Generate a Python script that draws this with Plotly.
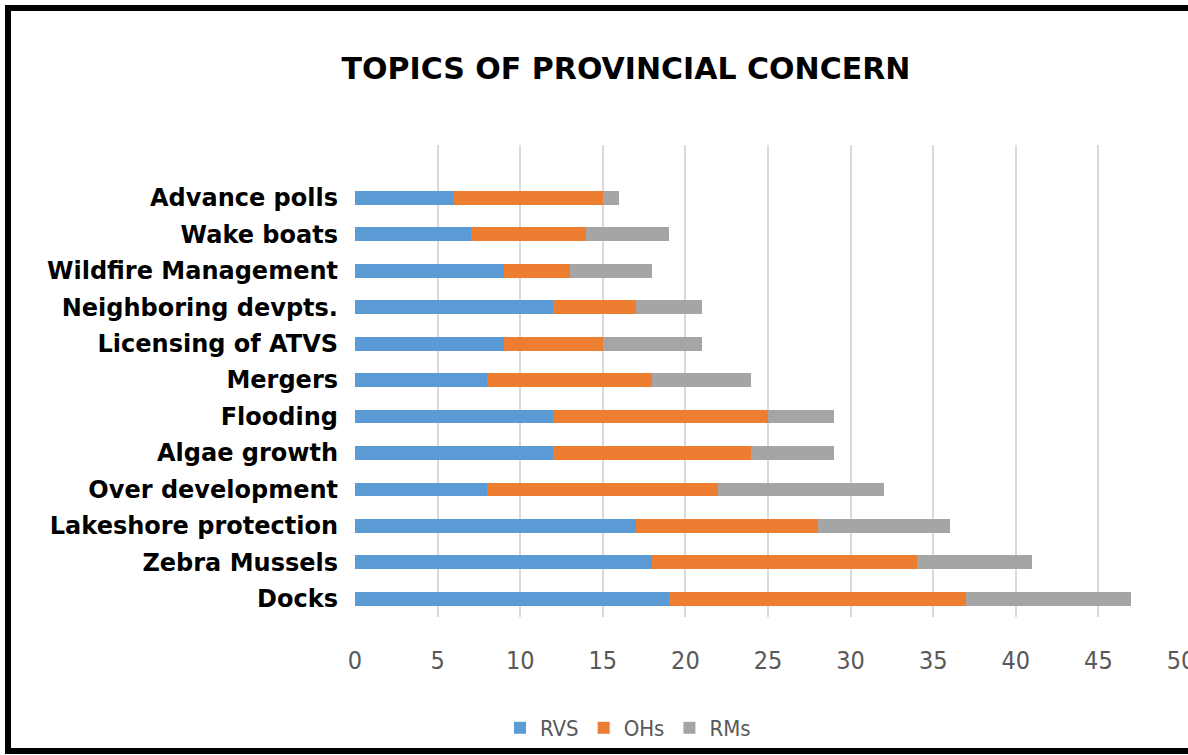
import plotly.graph_objects as go

# Categories listed bottom to top
categories = ["Docks", "Zebra Mussels", "Lakeshore protection", "Over development",
              "Algae growth", "Flooding", "Mergers", "Licensing of ATVS",
              "Neighboring devpts.", "Wildfire Management", "Wake boats", "Advance polls"]
rvs = [19, 18, 17, 8, 12, 12, 8, 9, 12, 9, 7, 6]
ohs = [18, 16, 11, 14, 12, 13, 10, 6, 5, 4, 7, 9]
rms = [10, 7, 8, 10, 5, 4, 6, 6, 4, 5, 5, 1]
series_names = ["RVS", "OHs", "RMs"]
colors = ["#5b9bd5", "#ed7d31", "#a5a5a5"]
x_ticks = [0, 5, 10, 15, 20, 25, 30, 35, 40, 45, 50]

W, H = 1188, 755
L, R, T, B = 355, 7, 145, 138
pw, ph = W - L - R, H - T - B

def px_x(p):
    return (p - L) / pw

def px_y(p):
    return (H - B - p) / ph

fig = go.Figure()
for name, vals, col in zip(series_names, [rvs, ohs, rms], colors):
    fig.add_trace(go.Bar(y=categories, x=vals, name=name, orientation="h",
                         marker=dict(color=col, line=dict(width=0)),
                         hoverinfo="x+y+name"))

fig.update_layout(
    width=W, height=H,
    barmode="stack", bargap=0.62,
    margin=dict(l=L, r=R, t=T, b=B, autoexpand=False),
    paper_bgcolor="white", plot_bgcolor="white",
    title=dict(text="<b>TOPICS OF PROVINCIAL CONCERN</b>", x=px_x(626), xref="paper",
               xanchor="center", y=1 - 68 / H, yanchor="middle",
               font=dict(family="DejaVu Sans", size=30, color="black")),
    xaxis=dict(range=[0, 50], tickvals=x_ticks, showgrid=True, gridcolor="#d9d9d9",
               gridwidth=2, zeroline=False, showline=False, ticks="",
               tickfont=dict(family="Liberation Sans Narrow, DejaVu Sans Condensed", size=25, color="#595959"),
               ticklabelstandoff=26, ticklabeloverflow="allow"),
    yaxis=dict(categoryorder="array", categoryarray=categories, range=[-0.5, 12.45],
               showgrid=False, zeroline=False, showline=False, ticks="",
               tickfont=dict(family="DejaVu Sans", size=24, color="black"),
               ticklabelstandoff=16, tickprefix="<b>", ticksuffix="</b>"),
    legend=dict(orientation="h", x=px_x(628), xanchor="center", y=px_y(728), yanchor="middle",
                font=dict(family="Liberation Sans Narrow, DejaVu Sans Condensed", size=22, color="#595959"),
                traceorder="normal", itemwidth=30, bgcolor="rgba(0,0,0,0)"),
    shapes=[dict(type="rect", xref="paper", yref="paper",
                 x0=px_x(8), x1=px_x(1210), y0=px_y(751), y1=px_y(8),
                 line=dict(color="black", width=6), fillcolor="rgba(0,0,0,0)", layer="above")],
)

fig.write_html("out.html", config={"displayModeBar": False},
               post_script="document.body.style.margin='0';document.body.style.overflow='hidden';")
